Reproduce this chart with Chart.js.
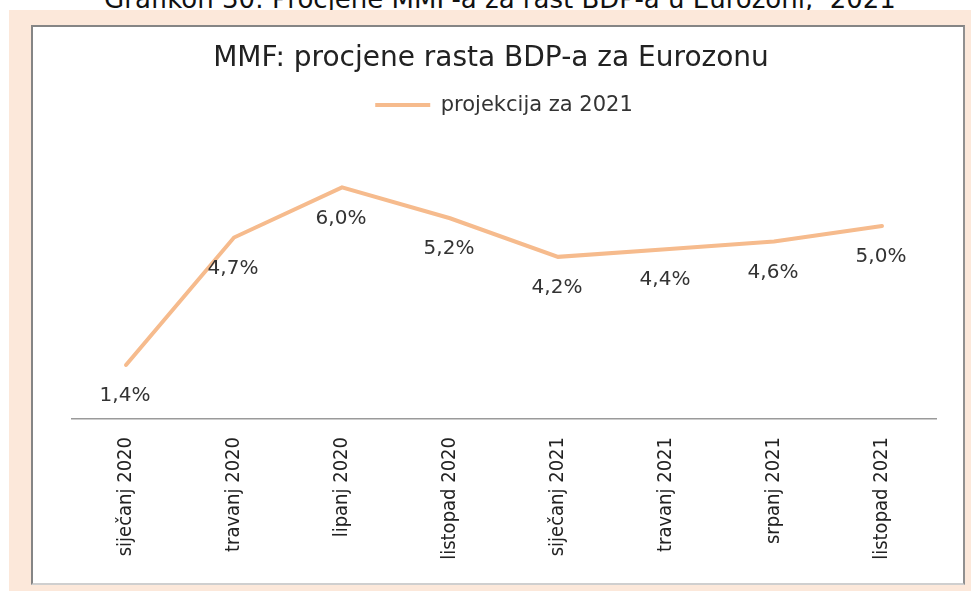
<!DOCTYPE html>
<html>
<head>
<meta charset="utf-8">
<script src="https://cdn.jsdelivr.net/npm/chart.js@4.4.0/dist/chart.umd.min.js"></script>
<style>
    body {
        margin: 0;
        width: 971px;
        height: 591px;
        position: relative;
        overflow: hidden;
        background: #ffffff;
        font-family: "DejaVu Sans", sans-serif;
    }
    .caption {
        position: absolute;
        left: 0;
        top: -14px;
        width: 1000px;
        text-align: center;
        font-size: 26px;
        line-height: 26px;
        color: #111;
        white-space: pre;
    }
    .page {
        position: absolute;
        left: 9px;
        top: 10px;
        right: 0;
        bottom: 0;
        background: #fce8da;
    }
    .frame {
        position: absolute;
        left: 31px;
        top: 25px;
        width: 930px;
        height: 556px;
        background: #ffffff;
        border-top: 2px solid #858585;
        border-left: 2px solid #858585;
        border-right: 2px solid #909090;
        border-bottom: 2px solid #cfcfcf;
    }
    #chart {
        position: absolute;
        left: 0;
        top: 0;
    }
</style>
</head>
<body>
<div class="caption">Grafikon 30: Procjene MMF-a za rast BDP-a u Eurozoni,  2021</div>
<div class="page"></div>
<div class="frame"></div>
<canvas id="chart" width="971" height="591"></canvas>
<script>
const categories = ["siječanj 2020", "travanj 2020", "lipanj 2020", "listopad 2020", "siječanj 2021", "travanj 2021", "srpanj 2021", "listopad 2021"];
const projection2021 = [1.4, 4.7, 6.0, 5.2, 4.2, 4.4, 4.6, 5.0];
const seriesLabel = "projekcija za 2021";
const chartTitle = "MMF: procjene rasta BDP-a za Eurozonu";

const lineColor = "#f6bb8d";

// value labels under each point, like the Excel data labels
const pointLabels = {
    id: "pointLabels",
    afterDatasetsDraw(chart) {
        const ctx = chart.ctx;
        const meta = chart.getDatasetMeta(0);
        ctx.save();
        ctx.font = "20px 'DejaVu Sans'";
        ctx.fillStyle = "#333333";
        ctx.textAlign = "center";
        ctx.textBaseline = "middle";
        meta.data.forEach((pt, i) => {
            const text = projection2021[i].toFixed(1).replace(".", ",") + "%";
            ctx.fillText(text, pt.x - 1, pt.y + 31);
        });
        ctx.restore();
    }
};

new Chart(document.getElementById("chart"), {
    type: "line",
    data: {
        labels: categories,
        datasets: [{
            label: seriesLabel,
            data: projection2021,
            borderColor: lineColor,
            backgroundColor: lineColor,
            borderWidth: 4,
            borderCapStyle: "round",
            pointRadius: 0,
            tension: 0
        }]
    },
    options: {
        responsive: false,
        animation: false,
        layout: {
            padding: { left: 46, right: 35, top: 0, bottom: 0 }
        },
        plugins: {
            title: {
                display: true,
                text: chartTitle,
                color: "#222222",
                font: { family: "DejaVu Sans", size: 28, weight: "normal" },
                padding: { top: 42, bottom: 9 }
            },
            legend: {
                display: true,
                fullSize: false,
                labels: {
                    usePointStyle: true,
                    pointStyle: "line",
                    pointStyleWidth: 55,
                    color: "#333333",
                    padding: 10,
                    font: { family: "DejaVu Sans", size: 21 }
                }
            },
            tooltip: { enabled: false }
        },
        scales: {
            x: {
                offset: true,
                grid: { display: false },
                border: { display: true, color: "#9a9a9a", width: 1.5 },
                ticks: {
                    minRotation: 90,
                    maxRotation: 90,
                    padding: 10,
                    color: "#222222",
                    font: { family: "'Liberation Sans Narrow', 'DejaVu Sans Condensed', sans-serif", size: 20 }
                },
                afterFit(scale) {
                    scale.height = 172;
                }
            },
            y: {
                min: 0,
                max: 7.6,
                grid: { display: false },
                border: { display: false },
                ticks: { display: false },
                afterFit(scale) {
                    scale.width = 26;
                }
            }
        }
    },
    plugins: [pointLabels]
});
</script>
</body>
</html>
